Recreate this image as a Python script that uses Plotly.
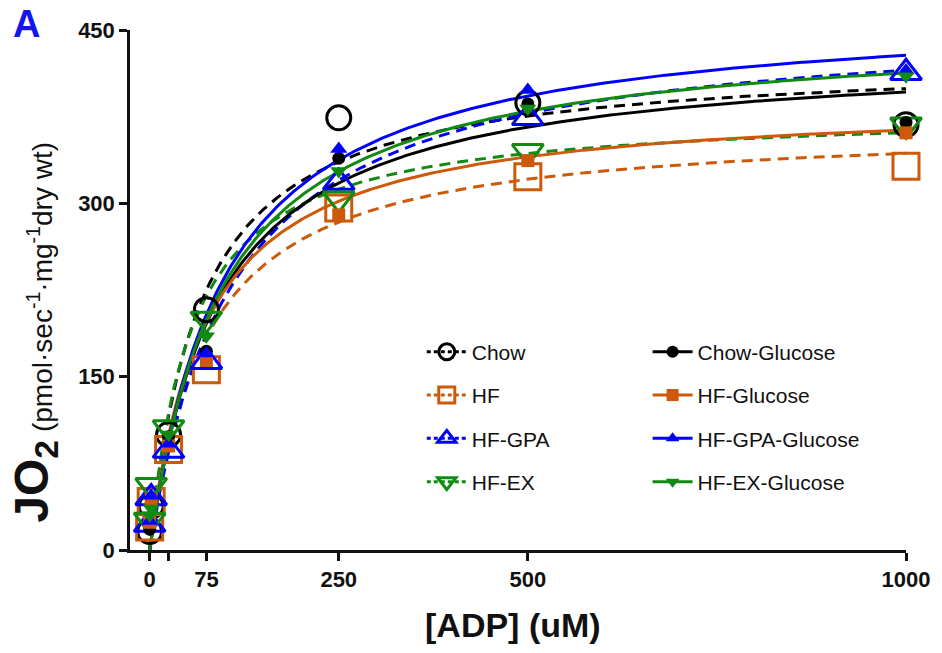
import numpy as np
import plotly.graph_objects as go

# ADP concentrations (uM)
ADP = [0, 2, 25, 75, 250, 500, 1000]

# Mean JO2 per group (pmol/sec/mg dry wt)
chow = [16, 38, 100, 208, 374, 387, 368]
hf = [20, 42, 87, 156, 296, 323, 332]
hf_gpa = [22, 45, 86, 163, 318, 374, 413]
hf_ex = [26, 56, 106, 200, 304, 345, 368]
chow_glc = [18, 40, 98, 172, 339, 386, 370]
hf_glc = [24, 44, 90, 164, 290, 337, 361]
hf_gpa_glc = [25, 47, 92, 170, 347, 398, 415]
hf_ex_glc = [30, 36, 100, 185, 328, 382, 410]

# Michaelis-Menten fit parameters per group
names = ["Chow", "HF", "HF-GPA", "HF-EX",
         "Chow-Glucose", "HF-Glucose", "HF-GPA-Glucose", "HF-EX-Glucose"]
vmax = [426, 369, 461, 381, 432, 390, 470, 452]
km = [67, 75, 110, 55, 90, 73, 98, 95]

series = [chow, hf, hf_gpa, hf_ex, chow_glc, hf_glc, hf_gpa_glc, hf_ex_glc]

BLACK, ORANGE, BLUE, GREEN = "#000000", "#CC5A0A", "#0000FF", "#118A11"
colors = [BLACK, ORANGE, BLUE, GREEN] * 2
symbols = ["circle-open", "square-open", "triangle-up-open", "triangle-down-open",
           "circle", "square", "triangle-up", "triangle-down"]
sizes = [24, 26, 27, 27, 13, 13, 15, 15]

FONT = "Arial, Liberation Sans, sans-serif"

fig = go.Figure()

# fitted curves
xfit = np.linspace(0, 1000, 400)
for i in range(8):
    yfit = vmax[i] * xfit / (km[i] + xfit)
    fig.add_trace(go.Scatter(
        x=xfit, y=yfit, mode="lines", showlegend=False, hoverinfo="skip",
        line=dict(color=colors[i], width=3,
                  dash="11px,7px" if i < 4 else "solid"),
        cliponaxis=False))

# data points: open markers first, then filled
for i in range(8):
    open_sym = i < 4
    fig.add_trace(go.Scatter(
        x=ADP, y=series[i], mode="markers", showlegend=False, name=names[i],
        marker=dict(symbol=symbols[i], size=sizes[i], color=colors[i],
                    line=dict(color=colors[i], width=3 if open_sym else 0)),
        cliponaxis=False))

# legend entries (two columns)
for i in range(8):
    open_sym = i < 4
    fig.add_trace(go.Scatter(
        x=[None], y=[None], mode="lines+markers", name=names[i],
        legend="legend" if open_sym else "legend2",
        legendgroup=names[i],
        marker=dict(symbol=symbols[i], size=16 if open_sym else 12, color=colors[i],
                    line=dict(color=colors[i], width=3 if open_sym else 0)),
        line=dict(color=colors[i], width=3, dash="4px,3px" if open_sym else "solid")))

legend_common = dict(
    font=dict(family=FONT, size=21, color="#111"),
    bgcolor="rgba(0,0,0,0)", borderwidth=0, tracegroupgap=13,
    itemsizing="trace", itemwidth=40, yanchor="top", xanchor="left",
    orientation="v")

fig.update_layout(
    width=942, height=653,
    margin=dict(l=130, r=31, t=30, b=103),
    paper_bgcolor="white", plot_bgcolor="white",
    font=dict(family=FONT, color="#111"),
    legend=dict(x=0.376, y=0.42, **legend_common),
    legend2=dict(x=0.667, y=0.42, **legend_common),
    xaxis=dict(
        range=[-26, 1000], showgrid=False, zeroline=False,
        showline=True, linecolor="#111", linewidth=2.5,
        ticks="outside", ticklen=8, tickwidth=2.5, tickcolor="#111",
        tickvals=[0, 25, 75, 250, 500, 1000],
        ticktext=["0", "", "75", "250", "500", "1000"],
        tickfont=dict(family=FONT, size=22, weight="bold", color="#111")),
    yaxis=dict(
        range=[0, 450], showgrid=False, zeroline=False,
        showline=True, linecolor="#111", linewidth=2.5,
        ticks="outside", ticklen=8, tickwidth=2.5, tickcolor="#111",
        tickvals=[0, 150, 300, 450],
        tickfont=dict(family=FONT, size=22, weight="bold", color="#111")),
)

# panel letter
fig.add_annotation(text="<b>A</b>", x=-0.134, y=1.012, xref="paper", yref="paper",
                   showarrow=False, xanchor="center", yanchor="middle",
                   font=dict(family=FONT, size=38, color="#1515F0"))

# y-axis title: bold symbol plus units, stacked along the axis
fig.add_annotation(
    text="<b>JO<sub>2</sub></b>",
    x=-0.122, y=0.2154, xref="paper", yref="paper", textangle=-90,
    showarrow=False, xanchor="center", yanchor="top",
    font=dict(family=FONT, size=48, color="#111"))
fig.add_annotation(
    text="(pmol·sec<sup>-1</sup>·mg<sup>-1</sup>dry wt)",
    x=-0.116, y=0.223, xref="paper", yref="paper", textangle=-90,
    showarrow=False, xanchor="center", yanchor="bottom",
    font=dict(family=FONT, size=28, color="#111"))

fig.add_annotation(text="<b>[ADP] (uM)</b>", x=0.493, y=-0.144,
                   xref="paper", yref="paper", showarrow=False,
                   xanchor="center", yanchor="middle",
                   font=dict(family=FONT, size=34, color="#111"))

fig.write_html("out.html")
